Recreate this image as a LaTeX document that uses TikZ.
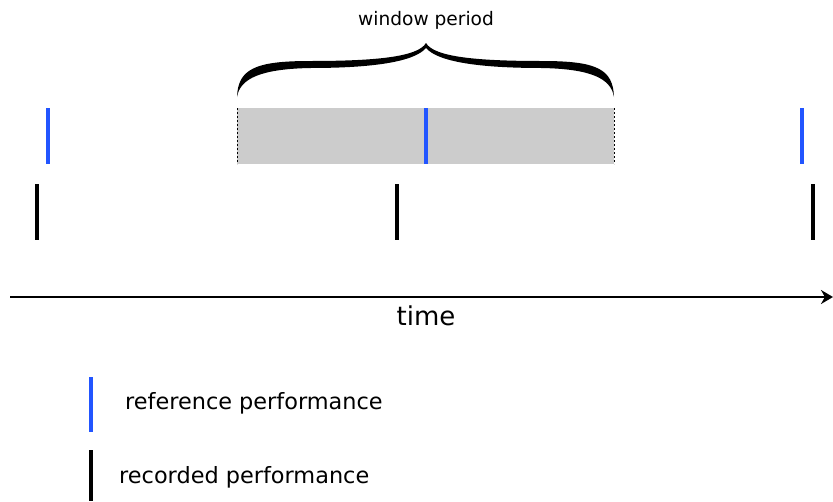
\documentclass[tikz,border=0pt]{standalone}
\usepackage{fontspec}
\setmainfont{DejaVu Sans}
\usetikzlibrary{arrows.meta}
\definecolor{refblue}{RGB}{34,85,255}
\definecolor{wingrey}{RGB}{204,204,204}
\tikzset{
  reftick/.style={draw=refblue,line width=3.5pt},
  rectick/.style={draw=black,line width=3.5pt},
  lbl/.style={inner sep=0pt,anchor=base west},
}
\begin{document}
\begin{tikzpicture}[x=1pt,y=-1pt]
\useasboundingbox (0,0) rectangle (833,501);
% window
\fill[wingrey] (237,108) rectangle (614,164);
\draw[dashed,line width=0.7pt,dash pattern=on 2pt off 2pt] (237,108) -- (237,164);
\draw[dashed,line width=0.7pt,dash pattern=on 2pt off 2pt] (614,108) -- (614,164);
% brace
\fill[black] (237,97) .. controls (238,69) and (255,61) .. (310,61)
  .. controls (375,61) and (418,57) .. (426,43)
  .. controls (434,57) and (477,61) .. (542,61)
  .. controls (597,61) and (613,69) .. (614,97)
  .. controls (611,78) and (590,69) .. (542,68)
  .. controls (480,68) and (438,62) .. (426,48)
  .. controls (414,62) and (372,68) .. (310,68)
  .. controls (262,69) and (240,78) .. (237,97) -- cycle;
\node[inner sep=0pt] (wp) at (426,20) {\fontsize{18.6}{21}\selectfont window period};
% reference ticks
\draw[reftick] (48,108) -- (48,164);
\draw[reftick] (426,108) -- (426,164);
\draw[reftick] (802,108) -- (802,164);
% recorded ticks
\draw[rectick] (37,184) -- (37,240);
\draw[rectick] (397,184) -- (397,240);
\draw[rectick] (813,184) -- (813,240);
% axis
\coordinate (a0) at (10,297);
\coordinate (a1) at (833,297);
\draw[line width=1.8pt,-{Stealth[length=12pt,width=14pt]}] (a0) -- (a1);
\node[inner sep=0pt] (time) at (426,316) {\fontsize{26}{29}\selectfont time};
% legend
\draw[reftick] (91,377) -- (91,432);
\node[lbl] (lref) at (125,409) {\fontsize{22.4}{26}\selectfont reference performance};
\draw[rectick] (91,450) -- (91,501);
\node[lbl] (lrec) at (119,483) {\fontsize{22.4}{26}\selectfont recorded performance};
\end{tikzpicture}
\end{document}
